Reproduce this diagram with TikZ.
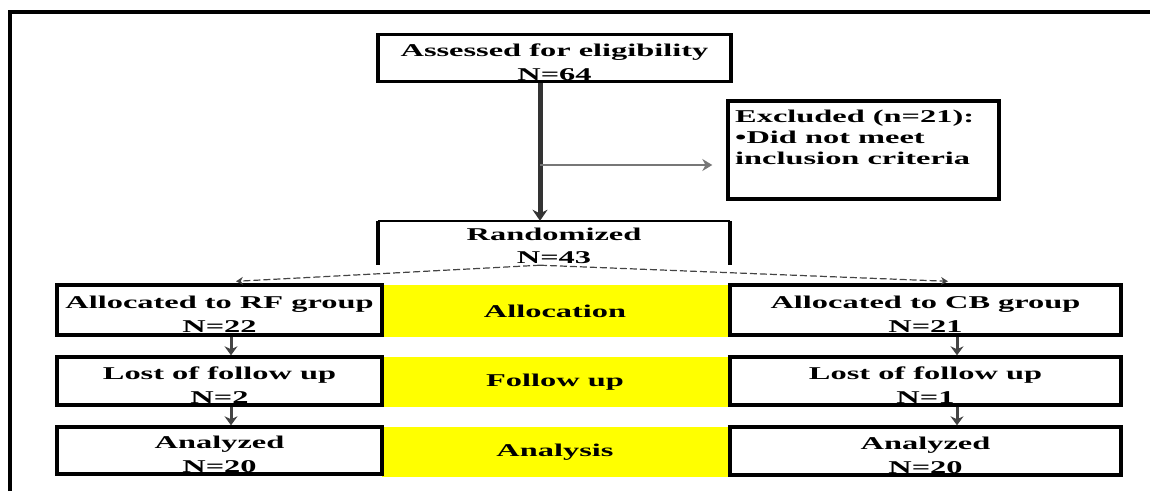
\documentclass[tikz,border=0pt]{standalone}
\usepackage{fontspec}
\setmainfont{Liberation Serif}
\usepackage{graphicx}
\usetikzlibrary{arrows.meta,calc}
\newcommand{\stx}[1]{\scalebox{1.8}[1]{#1}}
\definecolor{arrgray}{HTML}{444444}
\definecolor{midgray}{HTML}{777777}
\definecolor{yel}{HTML}{FFFF00}
\begin{document}
\begin{tikzpicture}[x=1pt,y=-1pt,
  framebox/.style={draw=black,line width=3.4pt,inner sep=0pt,fill=white},
  yelbox/.style={fill=yel,draw=none,inner sep=0pt},
  txt/.style={font=\fontsize{18}{24}\bfseries\selectfont,align=center,inner sep=0pt},
  smallarr/.style={draw=arrgray,line width=3pt,-{Stealth[length=9pt,width=13pt]}},
  dasharr/.style={draw=arrgray,line width=1.2pt,dash pattern=on 7pt off 3pt,-{Stealth[length=7pt,width=8pt]}}
]
\useasboundingbox (0,0) rectangle (1150,491);
% outer frame
\draw[line width=4pt] (10,491) -- (10,12) -- (1150,12);

% top box
\node[framebox,minimum width=353pt,minimum height=47pt] (assess) at (554.5,58) {};
\node[txt] (assessT) at ($(assess.center)+(0,4)$) {\stx{Assessed for eligibility}\\\stx{N=64}};

% excluded box
\node[framebox,minimum width=271pt,minimum height=98pt] (excl) at (863.5,150) {};
\node[txt,align=left,anchor=north west,font=\fontsize{18}{21}\bfseries\selectfont] (exclT) at (735,110)
  {\stx{Excluded (n=21):}\\\stx{•Did not meet}\\\stx{inclusion criteria}};

% randomized (open box)
\node[draw=none,inner sep=0pt,minimum width=352pt,minimum height=44pt] (rand) at (554,243) {};
\draw[line width=1.6pt] (rand.north west) -- (rand.north east);
\draw[line width=3.6pt] (rand.north west) -- (rand.south west);
\draw[line width=3.6pt] (rand.north east) -- (rand.south east);
\node[txt,font=\fontsize{18}{23}\bfseries\selectfont] (randT) at ($(rand.center)+(0,3)$) {\stx{Randomized}\\\stx{N=43}};

% yellow stage bands
\node[yelbox,minimum width=346pt,minimum height=52pt] (yA) at (555,311) {};
\node[txt] (yAT) at (yA.center) {\stx{Allocation}};
\node[yelbox,minimum width=346pt,minimum height=50pt] (yF) at (555,382) {};
\node[txt] (yFT) at (yF.center) {\stx{Follow up}};
\node[yelbox,minimum width=346pt,minimum height=50pt] (yN) at (555,452) {};
\node[txt] (yNT) at (yN.center) {\stx{Analysis}};

% left column
\node[framebox,minimum width=325pt,minimum height=50pt] (lA) at (219.5,310) {};
\node[txt] (lAT) at ($(lA.center)+(0,4)$) {\stx{Allocated to RF group}\\\stx{N=22}};
\node[framebox,minimum width=325pt,minimum height=48pt] (lF) at (219.5,381) {};
\node[txt] (lFT) at ($(lF.center)+(0,4)$) {\stx{Lost of follow up}\\\stx{N=2}};
\node[framebox,minimum width=325pt,minimum height=47pt] (lN) at (219.5,450.5) {};
\node[txt] (lNT) at ($(lN.center)+(0,4)$) {\stx{Analyzed}\\\stx{N=20}};

% right column
\node[framebox,minimum width=391pt,minimum height=50pt] (rA) at (925.5,310) {};
\node[txt] (rAT) at ($(rA.center)+(0,4)$) {\stx{Allocated to CB group}\\\stx{N=21}};
\node[framebox,minimum width=391pt,minimum height=48pt] (rF) at (925.5,381) {};
\node[txt] (rFT) at ($(rF.center)+(0,4)$) {\stx{Lost of follow up}\\\stx{N=1}};
\node[framebox,minimum width=391pt,minimum height=48pt] (rN) at (925.5,451) {};
\node[txt] (rNT) at ($(rN.center)+(0,4)$) {\stx{Analyzed}\\\stx{N=20}};

% helper coordinates
\coordinate (vx) at (540,0);
\coordinate (hy) at (0,165);
\coordinate (lx) at (231,0);
\coordinate (rx) at (957,0);
\coordinate (ldx) at (236,0);
\coordinate (rdx) at (948,0);

% main vertical arrow
\draw[draw=black!80,line width=5pt,-{Stealth[length=11pt,width=15pt]}] (assess.south -| vx) -- (rand.north -| vx);
% exclusion arrow
\draw[draw=midgray,line width=2.6pt,shorten >=14pt,-{Stealth[length=10pt,width=12pt]}] (vx |- hy) -- (excl.west |- hy);

% split dashed arrows
\coordinate (peak) at (rand.south -| vx);
\draw[dasharr] (peak) -- ($(lA.north -| ldx)+(0,-2)$);
\draw[dasharr] (peak) -- ($(rA.north -| rdx)+(0,-2)$);

% column arrows
\draw[smallarr] (lA.south -| lx) -- (lF.north -| lx);
\draw[smallarr] (lF.south -| lx) -- (lN.north -| lx);
\draw[smallarr] (rA.south -| rx) -- (rF.north -| rx);
\draw[smallarr] (rF.south -| rx) -- (rN.north -| rx);
\end{tikzpicture}
\end{document}
